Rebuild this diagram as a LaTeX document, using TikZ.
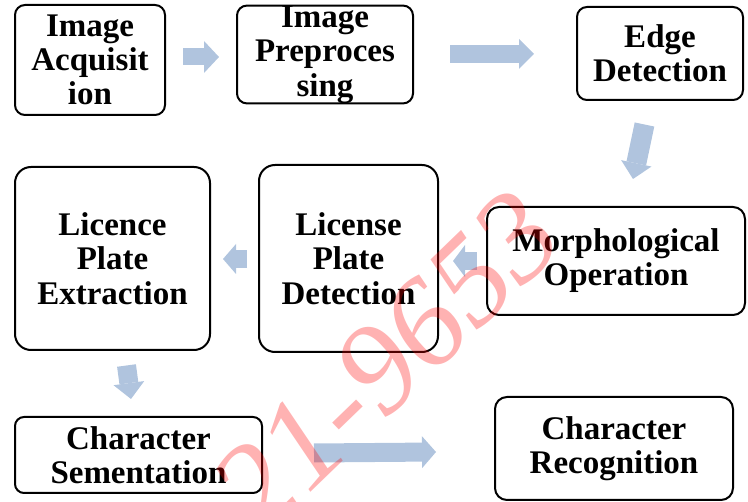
\documentclass[tikz,border=0pt]{standalone}
\usepackage{fontspec}
\setmainfont{Liberation Serif}
\usetikzlibrary{arrows.meta}
\definecolor{arrowc}{RGB}{176,196,222}
\tikzset{
  box/.style={draw=black, line width=2pt, rounded corners=#1, inner sep=0pt,
    align=center, font=\bfseries\fontsize{33}{34}\selectfont},
  box/.default=10pt,
  barrow/.style n args={3}{draw=arrowc, line width=#1pt,
    -{Triangle[length=#3pt,width=#2pt,line width=0pt]}},
  wmark/.style={text=red, text opacity=0.3, font=\itshape\fontsize{128}{128}\selectfont, inner sep=0pt}
}
\begin{document}
\begin{tikzpicture}[x=1pt,y=-1pt]
\useasboundingbox (0,0) rectangle (748,502);
% boxes
\node[box, minimum width=150pt, minimum height=110pt] (acq) at (90,60) {Image\\Acquisit\\ion};
\node[box, minimum width=176pt, minimum height=97pt, font=\bfseries\fontsize{33}{34.5}\selectfont] (pre) at (325,54.5) {Image\\Preproces\\sing};
\node[box, minimum width=166pt, minimum height=93pt] (edge) at (660,53.5) {Edge\\Detection};
\node[box=16pt, minimum width=195pt, minimum height=183pt, font=\bfseries\fontsize{33}{34.5}\selectfont] (ext) at (112.5,258.5) {Licence\\Plate\\Extraction};
\node[box=16pt, minimum width=179pt, minimum height=187pt, font=\bfseries\fontsize{33}{34.5}\selectfont] (det) at (348.5,258.5) {License\\Plate\\Detection};
\node[box=12pt, minimum width=258pt, minimum height=108pt] (mor) at (616,261) {Morphological\\Operation};
\node[box=9pt, minimum width=247pt, minimum height=76pt] (seg) at (138.5,455) {Character\\Sementation};
\node[box=12pt, minimum width=238pt, minimum height=103pt] (rec) at (614,448.5) {Character\\Recognition};
% block arrows
\draw[barrow={17}{32}{15}] ([xshift=17pt,yshift=3pt]acq.east) -- ([xshift=-17pt,yshift=-2.5pt]pre.west);
\draw[barrow={18}{30}{15}] ([xshift=36pt,yshift=0.5pt]pre.east) -- ([xshift=-42pt,yshift=-0.5pt]edge.west);
\draw[barrow={20}{31}{16}] ([xshift=-15.5pt,yshift=-23.5pt]edge.south) -- ([xshift=17pt,yshift=27pt]mor.north);
\draw[barrow={18}{32}{12}] ([xshift=-9pt]mor.west) -- ([xshift=14pt,yshift=-2.5pt]det.east);
\draw[barrow={18}{30}{13}] ([xshift=-11pt,yshift=-0.5pt]det.west) -- ([xshift=12pt,yshift=-0.5pt]ext.east);
\draw[barrow={19}{31}{16}] ([xshift=14pt,yshift=-14.5pt]ext.south) -- ([xshift=-7.5pt,yshift=17pt]seg.north);
\draw[barrow={19}{32}{14}] ([xshift=51pt,yshift=2pt]seg.east) -- ([xshift=-58pt,yshift=-3.5pt]rec.west);
% watermark
\node[wmark, rotate=44] (wm) at (386,362) {21-9653};
\end{tikzpicture}
\end{document}
